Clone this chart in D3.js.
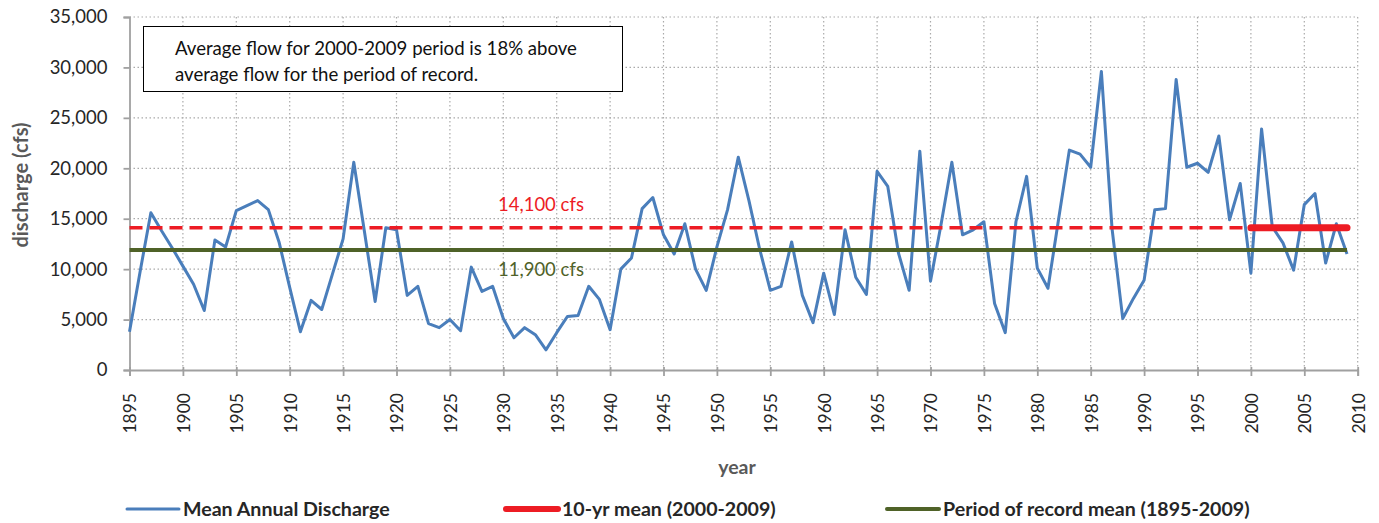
<!DOCTYPE html>
<html>
<head>
<meta charset="utf-8">
<script src="https://cdn.jsdelivr.net/npm/d3@7"></script>
<style>
  html, body { margin: 0; padding: 0; background: #fff; }
  svg { display: block; font-family: Lato, "Noto Sans", sans-serif; }
</style>
</head>
<body>
<svg id="chart" width="1379" height="523"></svg>
<script>
// ---------- data ----------
const years = d3.range(1895, 2010);
const discharge = [
  3800, 9800, 15600, 13800, 12100, 10300, 8500, 5900, 12900, 12200,
  15800, 16300, 16800, 15900, 12700, 8200, 3800, 6900, 6000, 9500,
  13000, 20600, 13700, 6800, 14100, 13900, 7400, 8300, 4600, 4200,
  5000, 3900, 10200, 7800, 8300, 5100, 3200, 4200, 3500, 2000,
  3700, 5300, 5400, 8300, 7000, 4000, 10000, 11100, 16000, 17100,
  13400, 11500, 14500, 10000, 7900, 12200, 15900, 21100, 16800, 12000,
  7900, 8300, 12700, 7400, 4700, 9600, 5500, 13900, 9200, 7500,
  19700, 18200, 11600, 7900, 21700, 8800, 14500, 20600, 13400, 13900,
  14700, 6600, 3700, 14700, 19200, 10100, 8100, 15000, 21800, 21400,
  20100, 29600, 14000, 5100, 7100, 8900, 15900, 16000, 28800, 20100,
  20500, 19600, 23200, 14900, 18500, 9600, 23900, 14200, 12600, 9900,
  16400, 17500, 10600, 14500, 11500
];
const tenYrMean = 14100;      // 2000-2009
const tenYrRange = [2000, 2009];
const recordMean = 11900;     // 1895-2009
const recordRange = [1895, 2009];
const yTicks = [0, 5000, 10000, 15000, 20000, 25000, 30000, 35000];
const xTicks = d3.range(1895, 2011, 5);
const seriesNames = ["Mean Annual Discharge", "10-yr mean (2000-2009)", "Period of record mean (1895-2009)"];
const noteLines = ["Average flow for 2000-2009 period is 18% above", "average flow for the period of record."];
const meanLabels = ["14,100 cfs", "11,900 cfs"];

// ---------- layout ----------
const L = 129.5, R = 1357.7, T = 17, B = 370;
const BLUE = "#4A7EBB", RED = "#ED1C24", GREEN = "#4F6228";
const svg = d3.select("#chart");

const x = d3.scaleLinear().domain([1895, 2010]).range([L, R]);
const y = d3.scaleLinear().domain([0, 35000]).range([B, T]);

// gridlines
const grid = svg.append("g");
grid.selectAll("line.h").data(yTicks.filter(d => d > 0)).join("line")
  .attr("x1", L).attr("x2", R).attr("y1", d => y(d)).attr("y2", d => y(d))
  .attr("stroke", "#aaaaaa").attr("stroke-width", 1.2).attr("stroke-dasharray", "1.5,2.5");
grid.selectAll("line.v").data(xTicks.filter(d => d > 1895)).join("line")
  .attr("x1", d => x(d)).attr("x2", d => x(d)).attr("y1", T).attr("y2", B)
  .attr("stroke", "#aaaaaa").attr("stroke-width", 1.2).attr("stroke-dasharray", "1.5,2.5");

// axes
const yAxis = svg.append("g").attr("transform", `translate(${L},0)`)
  .call(d3.axisLeft(y).tickValues(yTicks).tickSize(6).tickPadding(16).tickFormat(d3.format(",")));
const xAxis = svg.append("g").attr("transform", `translate(0,${B})`)
  .call(d3.axisBottom(x).tickValues(xTicks).tickSize(6).tickFormat(d => d));
[yAxis, xAxis].forEach(g => {
  g.select(".domain").attr("stroke", "#a0a0a0").attr("stroke-width", 1.8);
  g.selectAll(".tick line").attr("stroke", "#a0a0a0").attr("stroke-width", 1.8);
});
yAxis.selectAll(".tick text").attr("font-size", 18.5).attr("fill", "#262626").attr("font-family", "Lato, sans-serif");
xAxis.selectAll(".tick line").attr("y1", -3);
xAxis.selectAll(".tick text")
  .attr("font-size", 17.5).attr("fill", "#262626").attr("font-family", "Lato, sans-serif")
  .attr("text-anchor", "end").attr("transform", "rotate(-90)")
  .attr("x", -23).attr("y", 0).attr("dy", "0.36em");

// series line
const line = d3.line().x((d, i) => x(years[i])).y(d => y(d));
svg.append("path").datum(discharge).attr("d", line)
  .attr("fill", "none").attr("stroke", BLUE).attr("stroke-width", 3).attr("stroke-linejoin", "round");

// mean lines
svg.append("line").attr("x1", x(recordRange[0])).attr("x2", x(tenYrRange[0]))
  .attr("y1", y(tenYrMean)).attr("y2", y(tenYrMean))
  .attr("stroke", RED).attr("stroke-width", 3.5).attr("stroke-dasharray", "13,7");
svg.append("line").attr("x1", x(recordRange[0])).attr("x2", x(recordRange[1]))
  .attr("y1", y(recordMean)).attr("y2", y(recordMean))
  .attr("stroke", GREEN).attr("stroke-width", 3.8);
svg.append("line").attr("x1", x(tenYrRange[0])).attr("x2", x(tenYrRange[1]))
  .attr("y1", y(tenYrMean)).attr("y2", y(tenYrMean))
  .attr("stroke", RED).attr("stroke-width", 7).attr("stroke-linecap", "round");

// mean labels
svg.append("text").attr("x", 498).attr("y", 211).attr("font-size", 18.5).attr("fill", RED).text(meanLabels[0]);
svg.append("text").attr("x", 498).attr("y", 276).attr("font-size", 18.5).attr("fill", GREEN).text(meanLabels[1]);

// note box
svg.append("rect").attr("x", 143.5).attr("y", 26.5).attr("width", 479).attr("height", 65)
  .attr("fill", "#fff").attr("stroke", "#000").attr("stroke-width", 1);
svg.append("text").attr("font-size", 18.6).attr("fill", "#111")
  .selectAll("tspan").data(noteLines).join("tspan")
  .attr("x", 175).attr("y", (d, i) => 55 + i * 25.5).text(d => d);

// axis titles
svg.append("text").attr("transform", "translate(28,185) rotate(-90)").attr("text-anchor", "middle")
  .attr("font-size", 20).attr("font-weight", "bold").attr("fill", "#595959").text("discharge (cfs)");
svg.append("text").attr("x", 737).attr("y", 474).attr("text-anchor", "middle")
  .attr("font-size", 19.5).attr("font-weight", "bold").attr("fill", "#595959").text("year");

// legend
const legendItems = [
  { name: seriesNames[0], color: BLUE, w: 3, x0: 127 },
  { name: seriesNames[1], color: RED, w: 6, x0: 506 },
  { name: seriesNames[2], color: GREEN, w: 4, x0: 887 }
];
const lg = svg.append("g").selectAll("g").data(legendItems).join("g")
  .attr("transform", d => `translate(${d.x0},509)`);
lg.append("line").attr("x1", 0).attr("x2", 52).attr("y1", 0).attr("y2", 0)
  .attr("stroke", d => d.color).attr("stroke-width", d => d.w).attr("stroke-linecap", "round");
lg.append("text").attr("x", 56).attr("y", 0).attr("dy", "0.35em")
  .attr("font-size", 19.6).attr("font-weight", "bold").attr("fill", "#262626").text(d => d.name);
</script>
</body>
</html>
